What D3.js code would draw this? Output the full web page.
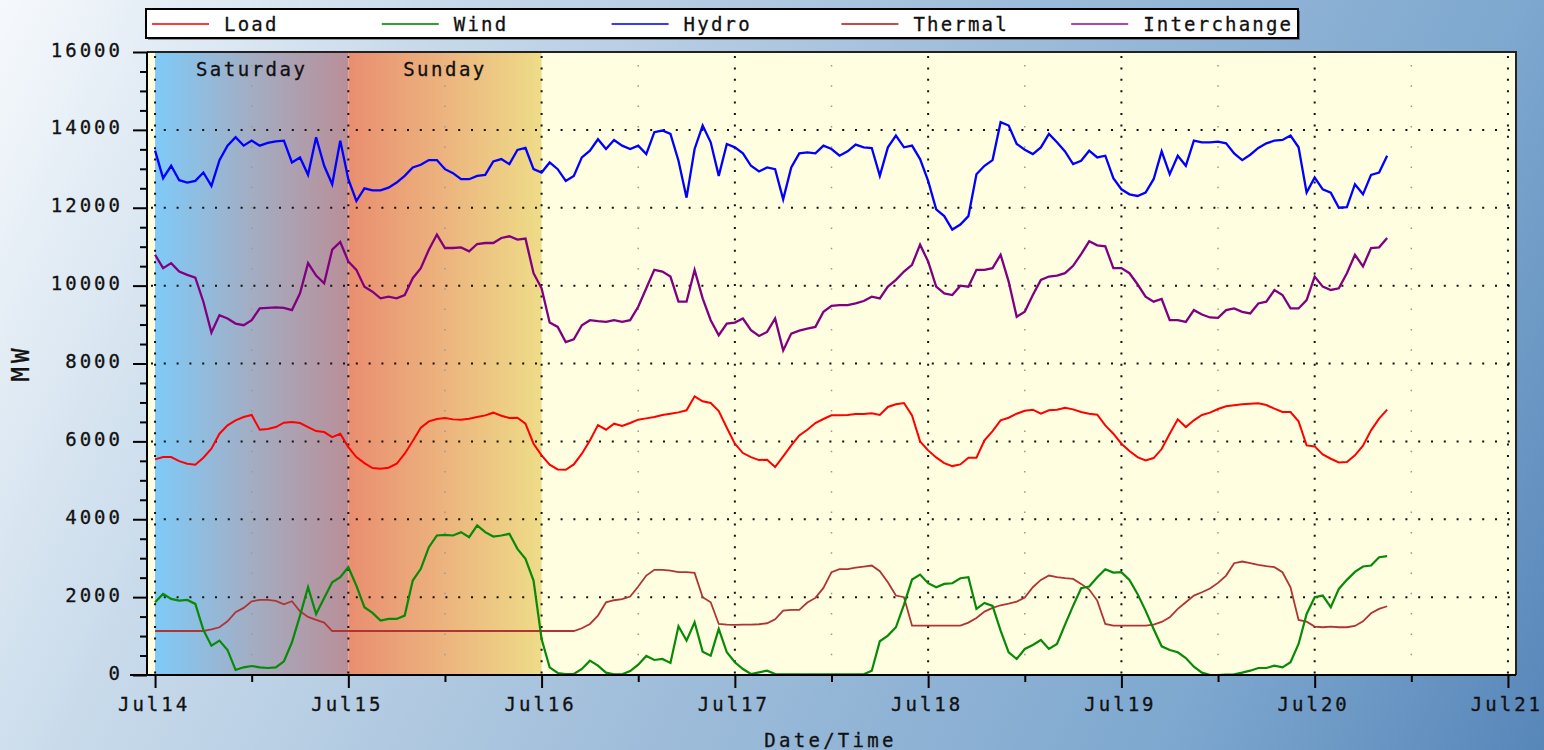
<!DOCTYPE html>
<html><head><meta charset="utf-8">
<script src="https://cdn.jsdelivr.net/npm/d3@7"></script>
<style>
html,body{margin:0;padding:0;overflow:hidden;background:#fff;}
svg{display:block;}
text{font-family:"DejaVu Sans Mono",monospace;fill:#111;stroke:#111;stroke-width:0.3px;}
</style></head><body>
<svg id="chart" width="1544" height="750"></svg>
<script>
// ---------------- data ----------------
const seriesNames  = ["Load","Wind","Hydro","Thermal","Interchange"];
const seriesColors = ["#ff0000","#078a07","#0000ff","#b03434","#800080"];
const legendColors = ["#ff3a3a","#2f9f2f","#3a3aff","#c24c4c","#b044b0"];
const startTime = new Date(2012,6,14,0,0);   // first sample, hourly samples
const stepHours = 1;

const loadMW = [5537,5597,5597,5494,5425,5400,5580,5811,6197,6411,6540,6625,6677,6300,6317,6368,6480,6497,6471,6368,6265,6240,6111,6197,5854,5597,5443,5314,5297,5323,5425,5683,6008,6351,6514,6574,6600,6565,6557,6583,6625,6668,6737,6660,6600,6608,6454,5940,5640,5400,5280,5271,5408,5683,6025,6420,
6300,6454,6394,6471,6557,6591,6625,6677,6711,6745,6797,7157,7028,6985,6780,6351,5940,5700,5597,5520,5528,5340,5614,5897,6154,6300,6471,6574,6668,6668,6677,6703,6703,6720,6677,6883,6951,6985,6668,6000,5768,5588,5443,5365,5408,5580,5580,6025,6265,6540,6608,6711,6788,6814,6711,
6797,6814,6865,6822,6754,6711,6685,6411,6197,5940,5751,5597,5511,5571,5803,6197,6565,6368,6540,6677,6737,6831,6900,6925,6951,6968,6977,6934,6840,6754,6754,6514,5897,5871,5665,5554,5460,5468,5640,5888,6283,6583,6814];

const windMW = [1868,2083,1954,1911,1928,1826,1157,754,883,643,129,197,231,197,180,197,351,840,1526,2254,1568,1980,2383,2511,2768,2297,1740,1594,1397,1440,1440,1526,2426,2726,3283,3583,3600,3583,3668,3540,3840,3668,3557,3583,3626,3240,2983,2426,926,197,51,26,26,154,369,240,
60,17,17,103,266,489,386,411,309,1250,883,1354,600,497,1183,583,326,154,26,69,111,26,17,17,17,17,17,17,17,17,17,17,17,111,866,1011,1226,1808,2451,2580,2357,2254,2340,2357,2486,2511,1697,1851,1774,1140,583,411,669,771,900,
669,797,1294,1774,2228,2271,2511,2717,2631,2640,2443,2083,1654,1183,737,643,583,437,214,60,0,0,9,17,60,111,180,180,240,197,326,797,1568,1997,2040,1740,2211,2443,2648,2786,2811,3026,3051];

const hydroMW = [13466,12759,13078,12707,12647,12690,12905,12560,13224,13595,13810,13595,13724,13595,13664,13707,13724,13164,13293,12845,13810,13078,12604,13724,12733,12173,12500,12448,12448,12517,12647,12819,13035,13104,13224,13224,12991,12888,12733,12733,12819,12845,13190,13250,13121,13483,13535,12991,12905,13164,12991,12690,12819,13293,13466,13760,
13509,13741,13595,13509,13595,13379,13940,13983,13897,13207,12259,13509,14112,13681,12819,13638,13552,13397,13078,12931,13035,12991,12216,13035,13397,13422,13397,13595,13509,13336,13448,13621,13552,13535,12819,13552,13853,13552,13595,13250,12690,11957,11785,11440,11569,11785,12862,13078,13224,14198,14112,13638,13491,13379,13550,
13897,13681,13448,13121,13207,13466,13293,13336,12759,12474,12345,12302,12388,12733,13448,12862,13336,13078,13724,13681,13681,13698,13655,13397,13224,13362,13535,13655,13724,13741,13853,13552,12388,12776,12474,12388,12000,12017,12604,12345,12845,12905,13336];

const thermalMW = [1130,1130,1130,1130,1130,1130,1130,1174,1226,1380,1611,1723,1894,1928,1928,1903,1817,1894,1637,1491,1414,1346,1130,1130,1130,1130,1130,1130,1130,1130,1130,1130,1130,1130,1130,1130,1130,1130,1130,1130,1130,1130,1130,1130,1130,1130,1130,1130,1130,1130,1130,1130,1130,1200,1311,1526,
1868,1920,1946,2014,2271,2554,2700,2700,2683,2640,2640,2623,1997,1868,1311,1294,1286,1294,1294,1303,1329,1431,1654,1671,1671,1860,1980,2237,2640,2717,2717,2760,2786,2811,2666,2383,2040,1997,1268,1268,1268,1268,1268,1268,1268,1346,1466,1628,1723,1791,1834,1886,1988,2254,2443,
2554,2511,2486,2468,2340,2194,1911,1311,1268,1268,1268,1268,1268,1294,1363,1483,1697,1868,2040,2126,2220,2366,2554,2871,2914,2871,2828,2794,2768,2640,2254,1414,1371,1243,1226,1243,1226,1226,1260,1380,1586,1697,1766];

const interchangeMW = [10793,10449,10578,10362,10276,10207,9587,8794,9242,9156,9026,8983,9112,9414,9431,9440,9431,9371,9802,10578,10259,10061,10923,11121,10621,10405,9974,9845,9673,9716,9673,9759,10190,10449,10923,11311,10966,10966,10983,10880,11069,11095,11095,11224,11267,11181,11207,10319,9931,9052,8940,8552,8621,8983,9112,9087,
9069,9112,9069,9112,9457,9931,10405,10362,10233,9587,9587,10405,9673,9112,8725,9026,9052,9156,8854,8707,8811,9156,8337,8768,8845,8897,8940,9328,9483,9500,9500,9543,9604,9716,9673,9974,10147,10362,10535,11052,10621,9974,9802,9759,9999,9974,10405,10405,10449,10793,10104,9199,9328,9759,10147,
10233,10259,10319,10509,10811,11138,11035,11009,10449,10449,10319,10035,9716,9587,9656,9112,9112,9069,9371,9259,9182,9173,9371,9414,9328,9285,9543,9587,9888,9759,9414,9414,9630,10233,9974,9888,9931,10319,10793,10492,10966,10983,11224];

const seriesValues = [loadMW, windMW, hydroMW, thermalMW, interchangeMW];

const dayTickLabels = ["Jul14","Jul15","Jul16","Jul17","Jul18","Jul19","Jul20","Jul21"];
const yTickValues   = [0,2000,4000,6000,8000,10000,12000,14000,16000];
const bandLabels    = ["Saturday","Sunday"];
const bandDayIndex  = [0,1];          // day offsets from Jul14
const xTitle = "Date/Time", yTitle = "MW";

// ---------------- layout ----------------
const W = 1544, H = 750;
const P = {left:147, right:1516, top:52, bottom:675};
const svg = d3.select("#chart");
const defs = svg.append("defs");

const dayDate = i => d3.timeDay.offset(startTime, i);
const x = d3.scaleTime()
  .domain([d3.timeHour.offset(startTime,-1), d3.timeHour.offset(dayDate(7),1)])
  .range([P.left, P.right]);
const y = d3.scaleLinear().domain([0,16000]).range([P.bottom, P.top]);
const tOf = i => d3.timeMinute.offset(startTime, Math.round(i*stepHours*60));

// page background
const bg = defs.append("linearGradient").attr("id","pageBg")
  .attr("gradientUnits","userSpaceOnUse").attr("x1",0).attr("y1",0).attr("x2",W).attr("y2",H);
[[0,"#f6f9fc"],[0.22,"#c9dbeb"],[0.5,"#a2bfdb"],[0.8,"#7ea8cf"],[1,"#5786b9"]]
  .forEach(s=>bg.append("stop").attr("offset",s[0]).attr("stop-color",s[1]));
svg.append("rect").attr("width",W).attr("height",H).attr("fill","url(#pageBg)");

// plot background
svg.append("rect").attr("x",P.left).attr("y",P.top)
  .attr("width",P.right-P.left).attr("height",P.bottom-P.top).attr("fill","#fffee0");

// weekend bands
const bandStops = [
  [[0,"#7fcaf8"],[0.5,"#a3adc3"],[1,"#b98f98"]],
  [[0,"#e98e70"],[0.5,"#ecb47e"],[1,"#eedc88"]]
];
bandLabels.forEach((lab,i)=>{
  const g = defs.append("linearGradient").attr("id","band"+i)
    .attr("x1",0).attr("y1",0).attr("x2",1).attr("y2",0);
  bandStops[i].forEach(s=>g.append("stop").attr("offset",s[0]).attr("stop-color",s[1]));
  const x0 = x(dayDate(bandDayIndex[i])), x1 = x(dayDate(bandDayIndex[i]+1));
  svg.append("rect").attr("x",x0).attr("y",P.top).attr("width",x1-x0)
    .attr("height",P.bottom-P.top).attr("fill",`url(#band${i})`);
  svg.append("text").attr("x",(x0+x1)/2).attr("y",75.5)
    .attr("text-anchor","middle").attr("font-size",19).attr("letter-spacing",2.5)
    .text(lab);
});

// grid
const grid = svg.append("g");
const dayDates = dayTickLabels.map((_,i)=>dayDate(i));
const halfDates = dayTickLabels.slice(0,7).map((_,i)=>d3.timeHour.offset(dayDate(i),12));
grid.selectAll(".hg").data(yTickValues.filter(v=>v>0 && v<16000)).join("line")
  .attr("x1",P.left+4).attr("x2",P.right).attr("y1",d=>y(d)).attr("y2",d=>y(d))
  .attr("stroke","#111").attr("stroke-width",2).attr("stroke-dasharray","2 10.8");
grid.selectAll(".vg").data(dayDates).join("line")
  .attr("x1",d=>x(d)).attr("x2",d=>x(d)).attr("y1",P.top+4).attr("y2",P.bottom)
  .attr("stroke","#111").attr("stroke-width",2).attr("stroke-dasharray","2 9.4");
grid.selectAll(".mg").data(halfDates).join("line")
  .attr("x1",d=>x(d)).attr("x2",d=>x(d)).attr("y1",P.top+13).attr("y2",P.bottom)
  .attr("stroke","#999").attr("stroke-width",1.5).attr("stroke-dasharray","1.5 18.8");

// series
defs.append("clipPath").attr("id","plotClip").append("rect")
  .attr("x",P.left).attr("y",P.top).attr("width",P.right-P.left).attr("height",P.bottom-P.top);
const lineGen = d3.line().x((d,i)=>x(tOf(i))).y(d=>y(d));
const drawOrder = [3,1,0,4,2];
const widths = [2,2.2,2.3,1.8,2.3];
svg.append("g").attr("clip-path","url(#plotClip)")
  .selectAll("path").data(drawOrder).join("path")
  .attr("d",k=>lineGen(seriesValues[k]))
  .attr("fill","none").attr("stroke",k=>seriesColors[k])
  .attr("stroke-width",k=>widths[k]).attr("stroke-linejoin","miter");

// frame
svg.append("path").attr("d",`M${P.left},${P.top}H${P.right}V${P.bottom}`)
  .attr("fill","none").attr("stroke","#222").attr("stroke-width",2);

// axes
const yAxis = svg.append("g").attr("transform",`translate(${P.left},0)`)
  .call(d3.axisLeft(y).tickValues(yTickValues).tickSize(14).tickPadding(10).tickFormat(d3.format("d")));
yAxis.select(".domain").remove();
yAxis.selectAll("line").attr("stroke","#000").attr("stroke-width",2);
yAxis.selectAll("text").attr("font-size",19).attr("letter-spacing",3)
  .attr("dy",4).attr("font-family",'"DejaVu Sans Mono",monospace').attr("fill","#111");
const yMinor = d3.range(500,16000,500).filter(v=>v%2000!==0);
const yAxisMinor = svg.append("g").attr("transform",`translate(${P.left},0)`)
  .call(d3.axisLeft(y).tickValues(yMinor).tickSize(7).tickFormat(""));
yAxisMinor.select(".domain").remove();
yAxisMinor.selectAll("line").attr("stroke","#000").attr("stroke-width",2);

const xAxis = svg.append("g").attr("transform",`translate(0,${P.bottom})`)
  .call(d3.axisBottom(x).tickValues(dayDates).tickSize(13).tickPadding(9.5)
    .tickFormat((d,i)=>dayTickLabels[i]));
xAxis.select(".domain").remove();
xAxis.selectAll("line").attr("stroke","#000").attr("stroke-width",2);
xAxis.selectAll("text").attr("font-size",19).attr("letter-spacing",3)
  .attr("dx",-1.5)
  .attr("font-family",'"DejaVu Sans Mono",monospace').attr("fill","#111");
const xAxisMinor = svg.append("g").attr("transform",`translate(0,${P.bottom})`)
  .call(d3.axisBottom(x).tickValues(halfDates).tickSize(7).tickFormat(""));
xAxisMinor.select(".domain").remove();
xAxisMinor.selectAll("line").attr("stroke","#000").attr("stroke-width",2);

// axis lines
svg.append("line").attr("x1",130).attr("x2",P.right).attr("y1",P.bottom).attr("y2",P.bottom)
  .attr("stroke","#000").attr("stroke-width",2);
svg.append("line").attr("x1",P.left).attr("x2",P.left).attr("y1",P.top).attr("y2",P.bottom)
  .attr("stroke","#000").attr("stroke-width",2);

// titles
svg.append("text").attr("x",(P.left+P.right)/2-1).attr("y",747)
  .attr("text-anchor","middle").attr("font-size",19).attr("letter-spacing",3.3).text(xTitle);
svg.append("text").attr("transform","translate(29,363) rotate(-90)")
  .attr("text-anchor","middle").attr("font-size",24).attr("letter-spacing",4).text(yTitle);

// legend
const L = {x:146, y:9, w:1152, h:29};
svg.append("rect").attr("x",L.x+2).attr("y",L.y+2).attr("width",L.w).attr("height",L.h)
  .attr("fill","#000").attr("opacity",0.35);
svg.append("rect").attr("x",L.x).attr("y",L.y).attr("width",L.w).attr("height",L.h)
  .attr("fill","#fff").attr("stroke","#000").attr("stroke-width",2);
const lg = svg.append("g").selectAll("g").data(seriesNames).join("g")
  .attr("transform",(d,i)=>`translate(${152+229.8*i},0)`);
lg.append("line").attr("x1",0).attr("x2",57).attr("y1",24).attr("y2",24)
  .attr("stroke",(d,i)=>legendColors[i]).attr("stroke-width",2);
lg.append("text").attr("x",72).attr("y",30.5).attr("font-size",19).attr("letter-spacing",2.2).text(d=>d);
</script>
</body></html>
